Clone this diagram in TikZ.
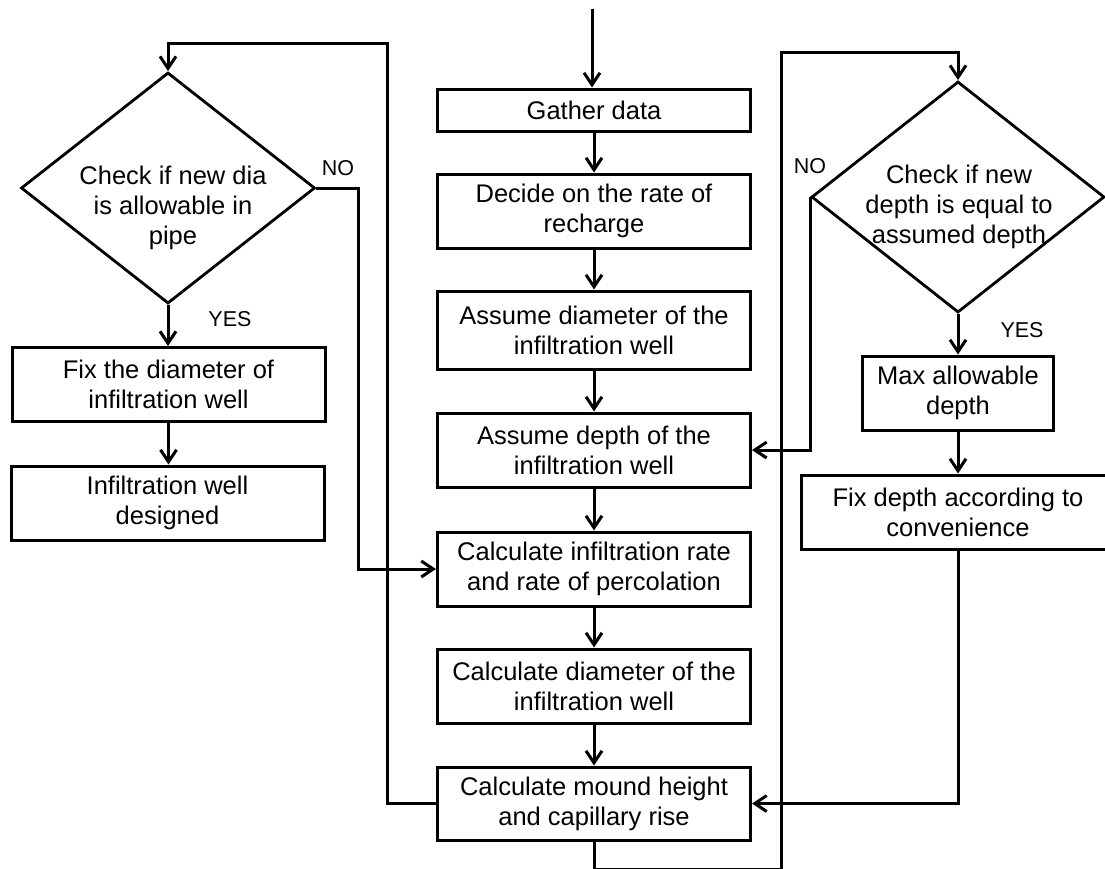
\documentclass[tikz,border=0pt]{standalone}
\usepackage{fontspec}
\setmainfont{Liberation Sans}
\usetikzlibrary{arrows.meta,shapes.geometric}
\begin{document}
\begin{tikzpicture}[x=1pt,y=-1pt,
  every node/.style={font=\fontsize{25.5}{30}\selectfont},
  box/.style={draw, line width=3pt, rectangle, align=center, inner sep=0pt, minimum width=313pt, minimum height=74pt},
  dia/.style={draw, line width=2.8pt, diamond, inner sep=0pt, minimum width=294pt, minimum height=231pt},
  txt/.style={align=center, inner sep=0pt},
  lbl/.style={font=\fontsize{21.5}{25}\selectfont, inner sep=0pt},
  conn/.style={line width=3pt},
  arr/.style={conn, -{Straight Barb[length=12pt,width=16pt]}}
]
\clip (0,0) rectangle (1105,868);
% centre column
\node[box, minimum height=42pt] (gather) at (594,110) {Gather data};
\node[box] (decide) at (594,211) {Decide on the rate of\\recharge};
\node[box, minimum height=78pt] (adiam) at (594,330) {Assume diameter of the\\infiltration well};
\node[box] (adepth) at (594,450) {Assume depth of the\\infiltration well};
\node[box] (calcinf) at (594,569) {Calculate infiltration rate\\and rate of percolation};
\node[box] (calcdia) at (594,686) {Calculate diameter of the\\infiltration well};
\node[box, minimum height=73pt] (mound) at (594,803.5) {Calculate mound height\\and capillary rise};
% left column
\node[dia] (ldia) at (168,188) {};
\node[txt] (ldiatext) at (173,208) {Check if new dia\\is allowable in\\pipe};
\node[box] (fixdia) at (168.5,384.5) {Fix the diameter of\\infiltration well};
\node[box] (designed) at (167.5,503) {Infiltration well\\designed};
% right column
\node[dia, minimum width=293pt] (rdia) at (958,197) {};
\node[txt] (rdiatext) at (959,207) {Check if new\\depth is equal to\\assumed depth};
\node[box, minimum width=191pt] (maxd) at (958,393) {Max allowable\\depth};
\node[box, minimum width=314pt] (fixdepth) at (958,512) {Fix depth according to\\convenience};
% labels
\node[lbl] (lno) at (338,168) {NO};
\node[lbl] (lyes) at (230,319) {YES};
\node[lbl] (rno) at (810,166) {NO};
\node[lbl] (ryes) at (1022,330) {YES};
% coordinates
\coordinate (start) at (592,9);
\coordinate (lnoc) at (358,188);
\coordinate (lloop) at (387,43);
\coordinate (bot) at (781,869.5);
\coordinate (rloop) at (781,52);
% connectors
\draw[arr] (start) -- (start |- gather.north);
\draw[arr] (gather.south) -- (decide.north);
\draw[arr] (decide.south) -- (adiam.north);
\draw[arr] (adiam.south) -- (adepth.north);
\draw[arr] (adepth.south) -- (calcinf.north);
\draw[arr] (calcinf.south) -- (calcdia.north);
\draw[arr] (calcdia.south) -- (mound.north);
\draw[arr] (ldia.south) -- (ldia.south |- fixdia.north);
\draw[arr] (fixdia.south) -- (fixdia.south |- designed.north);
\draw[arr] (ldia.east) -- (lnoc) |- (calcinf.west);
\draw[arr] (mound.west) -| (lloop) -| (ldia.north);
\draw[arr] (rdia.west) |- (adepth.east);
\draw[arr] (rdia.south) -- (rdia.south |- maxd.north);
\draw[arr] (maxd.south) -- (maxd.south |- fixdepth.north);
\draw[arr] (fixdepth.south) |- (mound.east);
\draw[arr] (mound.south) |- (bot) -- (rloop) -| (rdia.north);
\end{tikzpicture}
\end{document}
